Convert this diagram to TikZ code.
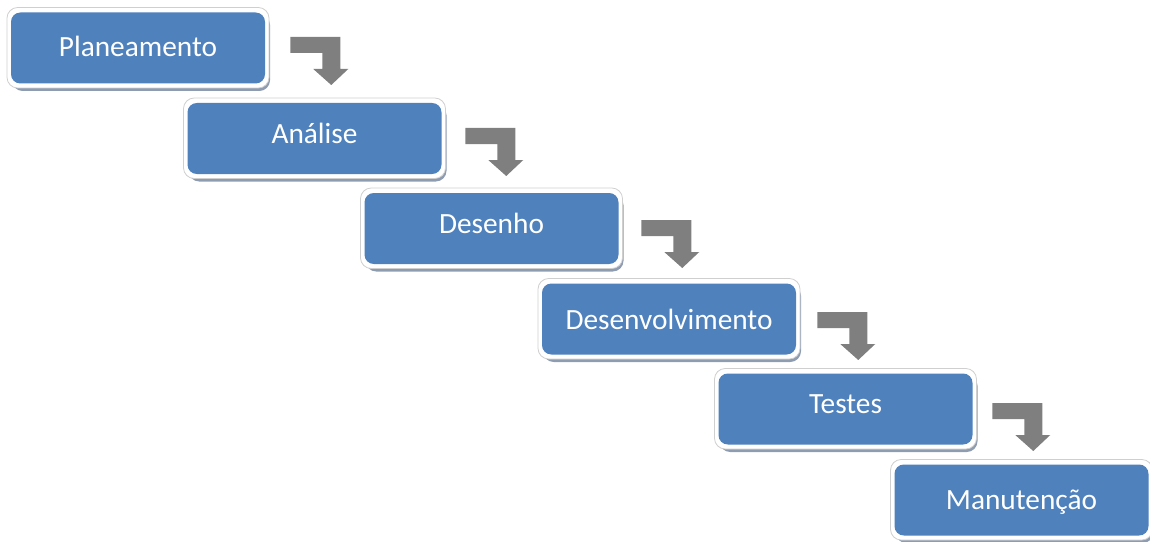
\documentclass[tikz,border=0pt]{standalone}
\usepackage{fontspec}
\setmainfont{Carlito}
\usetikzlibrary{calc}
\definecolor{stageblue}{HTML}{4F81BD}
\definecolor{stageshadow}{HTML}{8E9CB2}
\definecolor{framegray}{HTML}{CFCFCF}
\definecolor{arrowgray}{HTML}{7F7F7F}
\tikzset{
  stagebox/.style={fill=stageblue, rounded corners=7pt, minimum width=190.5pt,
    minimum height=53.25pt, inner sep=0pt},
  stagelabel/.style={text=white, inner sep=0pt, anchor=base,
    font=\fontsize{22}{26}\selectfont},
  stageframe/.style={fill=white, draw=framegray, line width=0.6pt, rounded corners=8pt},
  stageshade/.style={fill=stageshadow, rounded corners=8pt},
  flowarrow/.style={fill=arrowgray, draw=none}
}
% one stage: shadow, white frame, blue box, and its label set on a baseline
% #1 name, #2 #3 centre, #4 baseline, #5 text
\newcommand{\wfstage}[5]{%
  \coordinate (#1c) at (#2,#3);
  \fill[stageshade] ($(#1c)+(-126,-34)$) rectangle ($(#1c)+(132,43)$);
  \filldraw[stageframe] ($(#1c)+(-131,-40.5)$) rectangle ($(#1c)+(131,40)$);
  \node[stagebox] (#1) at (#1c) {};
  \node[stagelabel] (#1t) at (#2,#4) {#5};
}
% bent block arrow leading down to the next stage, placed from the box's east side
\newcommand{\wfarrow}[4]{%
  \coordinate (#2) at ($(#1.east)+(#3,#4)$);
  \begin{scope}[shift={(#2)}]
    \fill[flowarrow] (0,0) -- (50,0) -- (50,32) -- (58,32) -- (41,48)
      -- (23,32) -- (32,32) -- (32,16) -- (0,16) -- cycle;
  \end{scope}
}
\begin{document}
\begin{tikzpicture}[x=0.75pt,y=-0.75pt]
\useasboundingbox (0,0) rectangle (1150,542);
\wfstage{s1}{138}{48}{57}{Planeamento}
\wfstage{s2}{314.5}{138.5}{143}{Análise}
\wfstage{s3}{491.5}{228.5}{233}{Desenho}
\wfstage{s4}{669}{319}{329}{Desenvolvimento}
\wfstage{s5}{845.5}{409}{413}{Testes}
\wfstage{s6}{1021.5}{500}{509}{Manutenção}
\wfarrow{s1}{a1}{25}{-11}
\wfarrow{s2}{a2}{23.5}{-10.5}
\wfarrow{s3}{a3}{22.5}{-8.5}
\wfarrow{s4}{a4}{21}{-7}
\wfarrow{s5}{a5}{19.5}{-6}
\end{tikzpicture}
\end{document}
